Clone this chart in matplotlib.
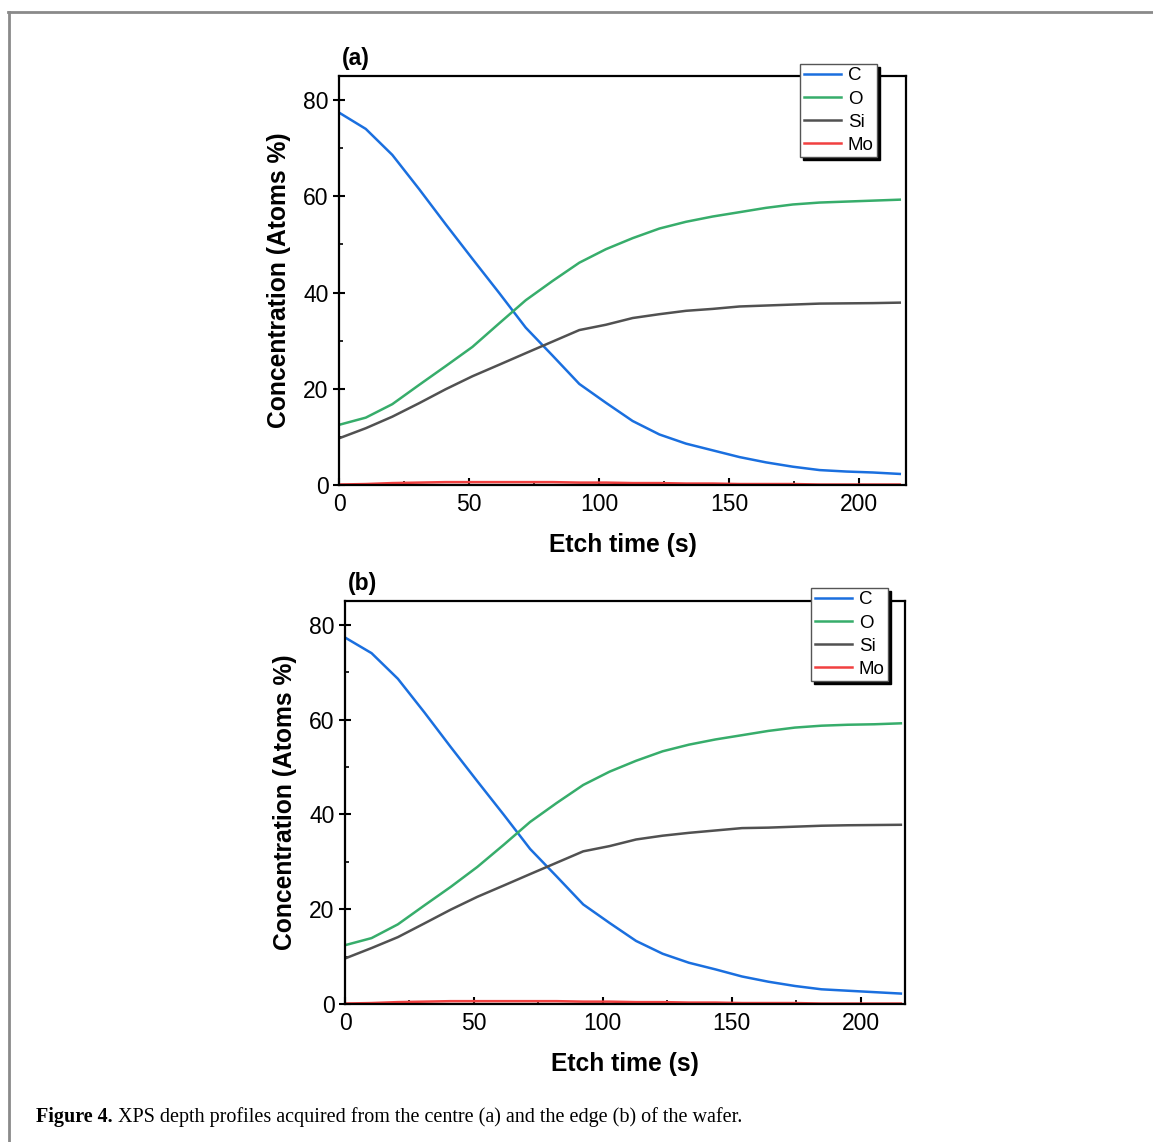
import matplotlib
matplotlib.use("Agg")
import matplotlib.pyplot as plt
from matplotlib.ticker import MultipleLocator
from matplotlib.lines import Line2D

plt.rcParams['font.family'] = ['Liberation Sans', 'DejaVu Sans']

# Etch time (s)
etch_time = [0, 10.3, 20.5, 30.8, 41, 51.3, 61.6, 71.8, 82.1, 92.4, 102.6,
             112.9, 123.2, 133.4, 143.7, 154, 164.2, 174.5, 184.8, 195, 205.3, 215.6]

# Panel (a) centre
C_a = [77.4, 74.0, 68.6, 61.5, 54.2, 47.0, 39.9, 32.7, 26.9, 21.0, 17.1,
       13.3, 10.5, 8.6, 7.2, 5.8, 4.7, 3.8, 3.1, 2.8, 2.6, 2.3]
O_a = [12.5, 14.0, 16.8, 20.8, 24.7, 28.7, 33.6, 38.4, 42.4, 46.2, 49.0,
       51.3, 53.3, 54.7, 55.8, 56.7, 57.6, 58.3, 58.7, 58.9, 59.1, 59.3]
Si_a = [9.7, 11.8, 14.2, 17.0, 19.9, 22.6, 25.0, 27.4, 29.8, 32.2, 33.3,
        34.7, 35.5, 36.2, 36.6, 37.1, 37.3, 37.5, 37.7, 37.75, 37.8, 37.9]
Mo_a = [0.1, 0.2, 0.4, 0.5, 0.6, 0.6, 0.6, 0.6, 0.6, 0.5, 0.5,
        0.4, 0.4, 0.3, 0.3, 0.2, 0.2, 0.2, 0.1, 0.1, 0.1, 0.1]

# Panel (b) edge
C_b = [77.3, 74.0, 68.6, 61.5, 54.2, 47.0, 39.9, 32.7, 26.9, 21.0, 17.1,
       13.3, 10.6, 8.7, 7.3, 5.8, 4.7, 3.8, 3.1, 2.8, 2.5, 2.2]
O_b = [12.4, 13.9, 16.8, 20.8, 24.7, 28.9, 33.6, 38.4, 42.4, 46.2, 49.0,
       51.3, 53.3, 54.7, 55.8, 56.7, 57.6, 58.3, 58.7, 58.9, 59.0, 59.2]
Si_b = [9.6, 11.8, 14.1, 17.0, 19.9, 22.6, 25.0, 27.4, 29.8, 32.2, 33.3,
        34.7, 35.5, 36.1, 36.6, 37.1, 37.2, 37.4, 37.6, 37.7, 37.75, 37.8]
Mo_b = [0.1, 0.2, 0.4, 0.5, 0.6, 0.6, 0.6, 0.6, 0.6, 0.5, 0.5,
        0.4, 0.4, 0.3, 0.3, 0.2, 0.2, 0.2, 0.1, 0.1, 0.1, 0.1]

labels = ['C', 'O', 'Si', 'Mo']
colors = ['#1A6FDF', '#37AD6B', '#515151', '#F14040']
panel_titles = ['(a)', '(b)']
caption_bold = 'Figure 4.'
caption_text = 'XPS depth profiles acquired from the centre (a) and the edge (b) of the wafer.'

fig = plt.figure(figsize=(11.53, 11.42), dpi=100)
W, H = 1153, 1142

# page frame
fig.add_artist(Line2D([8/W, 1.0], [1-12/H, 1-12/H], color='#8a8a8a', lw=2.0))
fig.add_artist(Line2D([8.5/W, 8.5/W], [0, 1-12/H], color='#8a8a8a', lw=2.0))

axes_px = [(339, 906, 76, 485, 218.0), (345, 905, 601, 1004, 217.2)]
data = [(C_a, O_a, Si_a, Mo_a), (C_b, O_b, Si_b, Mo_b)]
leg_anchor = [(877, 64), (888, 588)]

for (l, r, t, b, xmax), series, title, (lx, ly) in zip(axes_px, data, panel_titles, leg_anchor):
    ax = fig.add_axes([l/W, 1-b/H, (r-l)/W, (b-t)/H])
    for y, lab, col in zip(series, labels, colors):
        ax.plot(etch_time, y, color=col, lw=1.8, label=lab)
    ax.set_xlim(0, xmax)
    ax.set_ylim(0, 85)
    ax.xaxis.set_major_locator(MultipleLocator(50))
    ax.xaxis.set_minor_locator(MultipleLocator(25))
    ax.yaxis.set_major_locator(MultipleLocator(20))
    ax.yaxis.set_minor_locator(MultipleLocator(10))
    for s in ax.spines.values():
        s.set_linewidth(1.6)
    ax.tick_params(axis='y', which='major', direction='inout', length=9, width=1.5,
                   labelsize=16.5, pad=3)
    ax.tick_params(axis='x', which='major', direction='in', length=5, width=1.5,
                   labelsize=16.5, pad=6)
    ax.tick_params(which='minor', direction='in', length=3, width=1.2)
    ax.set_xlabel('Etch time (s)', fontsize=17.7, fontweight='bold', labelpad=12)
    ax.set_ylabel('Concentration (Atoms %)', fontsize=17.7, fontweight='bold', labelpad=9)
    ax.text(0.005, 1.015, title, transform=ax.transAxes, fontsize=16.5,
            fontweight='bold', ha='left', va='bottom')
    leg = ax.legend(loc='upper right', bbox_to_anchor=(lx/W, 1-ly/H),
                    bbox_transform=fig.transFigure, fontsize=13.5,
                    frameon=True, fancybox=False, shadow={'color': 'black', 'alpha': 1.0},
                    handlelength=2.0, handletextpad=0.35, borderpad=0.18,
                    labelspacing=0.32, borderaxespad=0.0)
    leg.get_frame().set_edgecolor('#555555')
    leg.get_frame().set_linewidth(1.0)
    leg.set_zorder(10)

fig.canvas.draw()
r = fig.canvas.get_renderer()
t1 = fig.text(36/W, 1-1117/H, caption_bold, fontsize=14.5, fontweight='bold',
              family='Liberation Serif', va='center', ha='left')
bb = t1.get_window_extent(renderer=r)
fig.text((bb.x1 + 5)/W, 1-1117/H, caption_text, fontsize=14.5,
         family='Liberation Serif', va='center', ha='left')

fig.savefig('out.png', dpi=100)
